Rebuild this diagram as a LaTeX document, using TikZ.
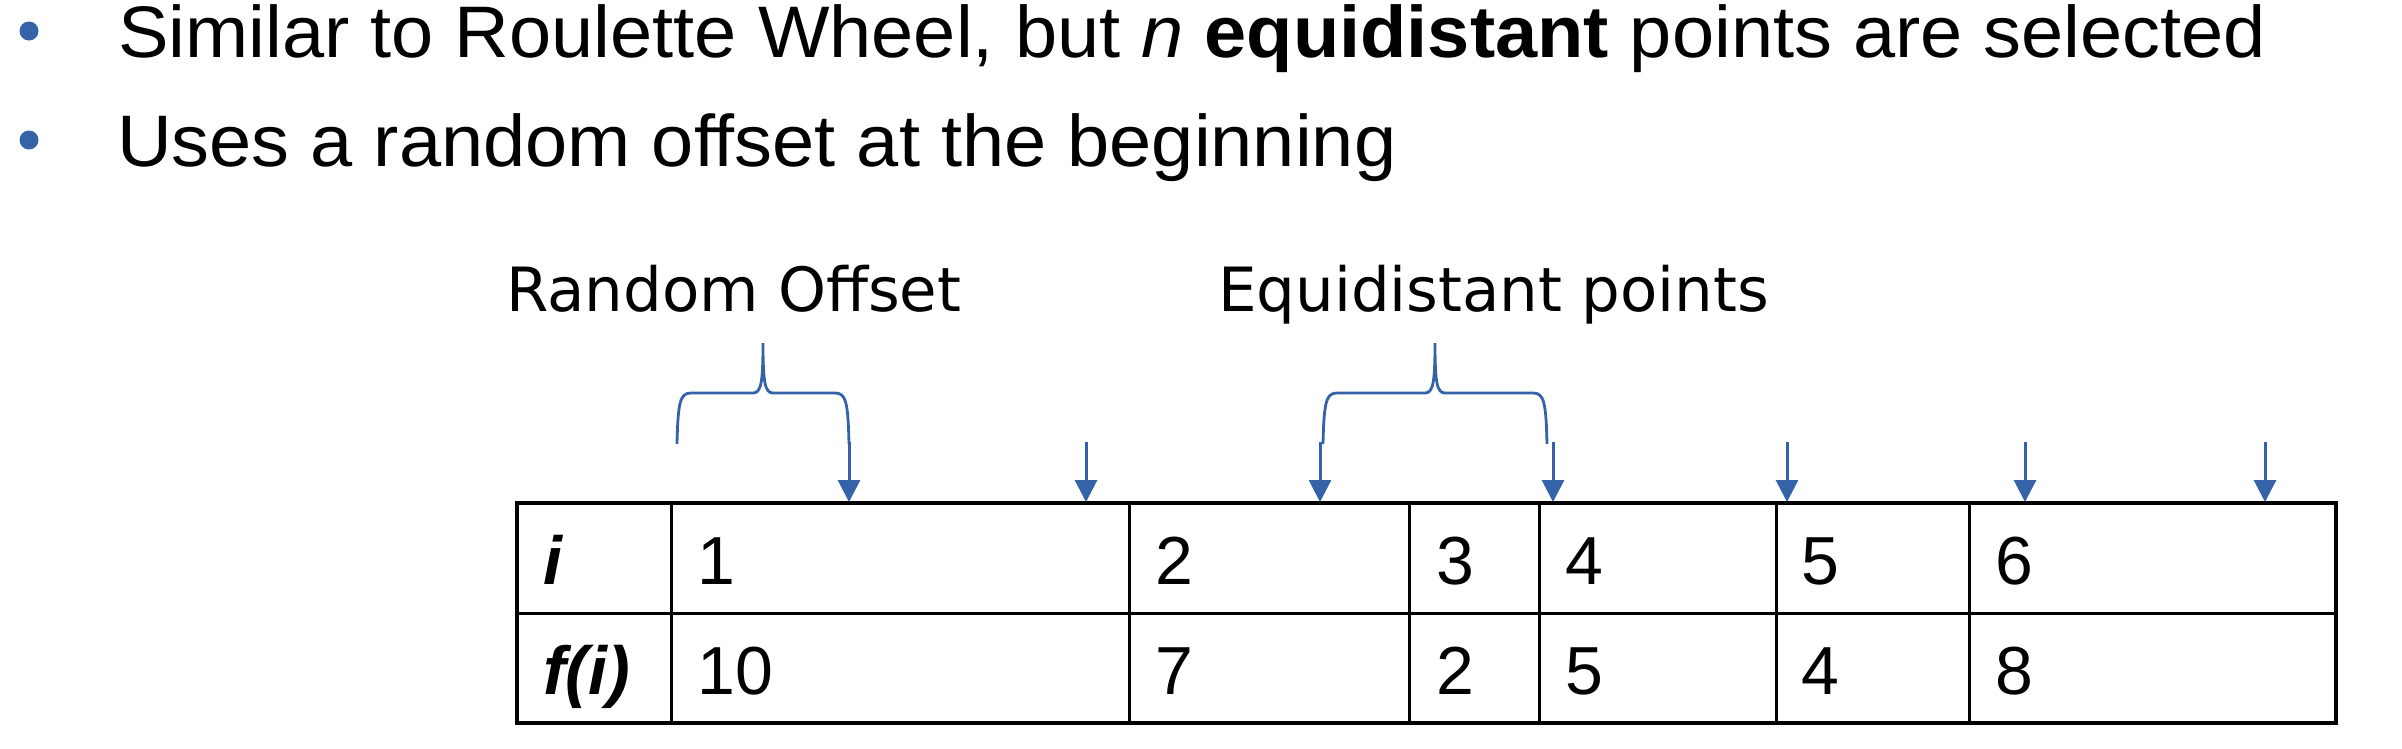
\documentclass[tikz,border=0pt]{standalone}
\usepackage{fontspec}
\setmainfont{Liberation Sans}
\newfontfamily\bodyfont[FakeStretch=1.038]{Liberation Sans}
\newfontfamily\labfont{DejaVu Sans}
\usetikzlibrary{arrows.meta}
\definecolor{accentblue}{RGB}{52,99,168}
\begin{document}
\begin{tikzpicture}[x=1pt,y=-1pt,
  body/.style={anchor=base west, inner sep=0pt, font=\bodyfont\fontsize{73}{88}\selectfont},
  cell/.style={anchor=base west, inner sep=0pt, font=\fontsize{68}{80}\selectfont},
  hcell/.style={cell, font=\fontsize{68}{80}\selectfont\bfseries\itshape},
  lab/.style={anchor=base west, inner sep=0pt, font=\labfont\fontsize{61}{72}\selectfont},
  gridline/.style={line width=3pt, black},
  outerline/.style={line width=3.5pt, black},
  pointer/.style={accentblue, line width=3pt, -{Triangle[width=22pt,length=22pt]}},
  bracket/.style={accentblue, line width=2.8pt},
  bulletdot/.style={circle, fill=accentblue, draw=none, inner sep=0pt, minimum size=19pt}]
\useasboundingbox (0,0) rectangle (2402,748);

% bullets
\node[bulletdot] (d1) at (29,31) {};
\node[bulletdot] (d2) at (29,140) {};
\node[body] (l1) at (118,57) {Similar to Roulette Wheel, but \textit{n} \textbf{equidistant} points are selected};
\node[body] (l2) at (117,166) {Uses a random offset at the beginning};

% labels
\node[lab] (ro) at (506,311) {Random Offset};
\node[lab] (ep) at (1218,311) {Equidistant points};

% table grid
\coordinate (tl) at (517,503);
\coordinate (br) at (2336,723);
\draw[outerline] (tl) rectangle (br);
\draw[gridline] (517,613) -- (2336,613);
\foreach \x in {671,1129,1409,1539,1776,1969}
  \draw[gridline] (\x,503) -- (\x,723);

% table text
\node[hcell] (hi) at (543,584) {i};
\node[hcell] (hf) at (543,694) {f(i)};
\foreach \x/\a/\b [count=\k] in {697/1/10,1155/2/7,1436/3/2,1565/4/5,1801/5/4,1995/6/8}{
  \node[cell] (i\k) at (\x,584) {\a};
  \node[cell] (f\k) at (\x,694) {\b};
}

% pointers
\foreach \x [count=\k] in {849,1086,1320,1553,1787,2025,2265}{
  \coordinate (s\k) at (\x,442);
  \coordinate (e\k) at (\x,502);
  \draw[pointer] (s\k) -- (e\k);
}

% braces
\draw[bracket] (677,444) .. controls (678,402) and (680,393) .. (691,393)
  -- (753,393) .. controls (761,393) and (763,383) .. (763,343)
  .. controls (763,383) and (765,393) .. (773,393)
  -- (835,393) .. controls (846,393) and (848,402) .. (849,444);
\draw[bracket] (1323,444) .. controls (1324,402) and (1326,393) .. (1337,393)
  -- (1425,393) .. controls (1433,393) and (1435,383) .. (1435,343)
  .. controls (1435,383) and (1437,393) .. (1445,393)
  -- (1533,393) .. controls (1544,393) and (1546,402) .. (1547,444);
\end{tikzpicture}
\end{document}
